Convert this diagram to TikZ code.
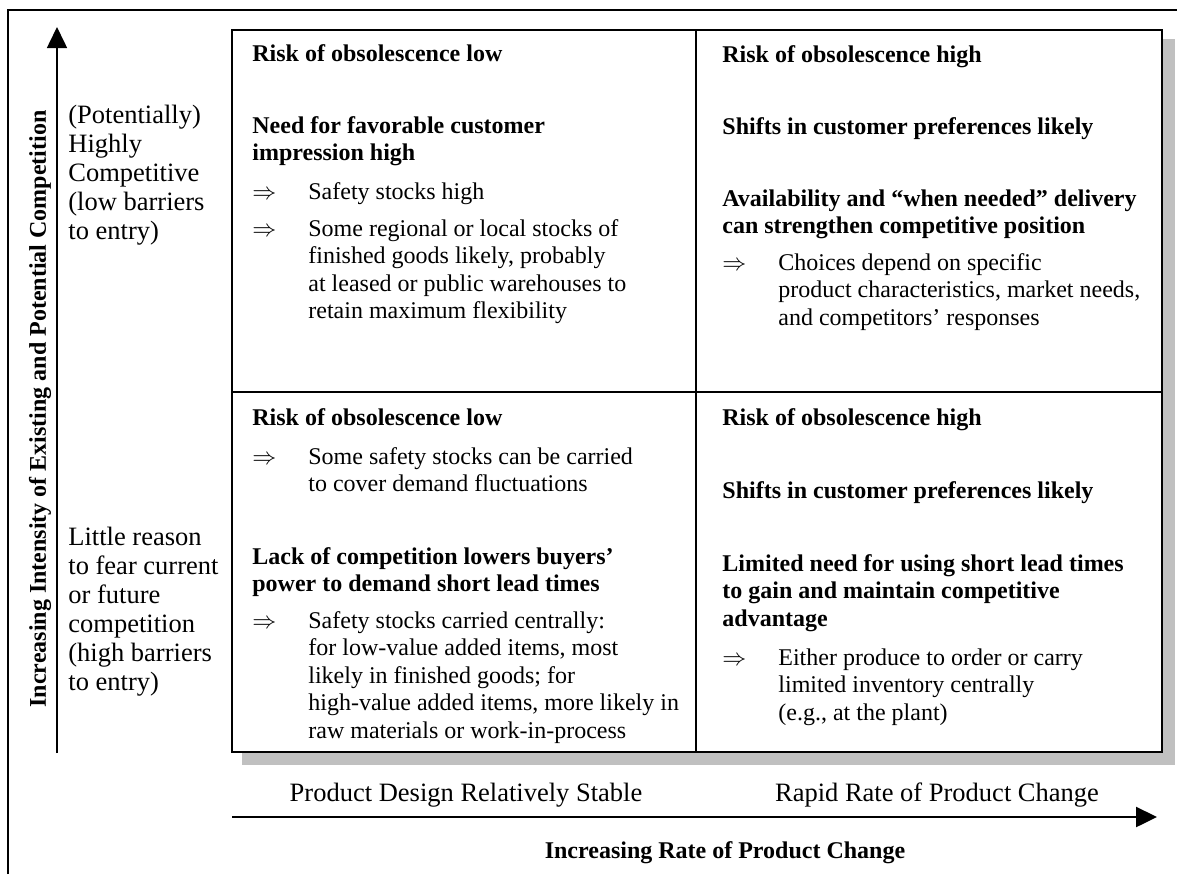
\documentclass[tikz,border=0pt]{standalone}
\usepackage{fontspec}
\setmainfont{Liberation Serif}
\usetikzlibrary{arrows.meta}

\definecolor{shadowgray}{HTML}{C0C0C0}

% multi-line nodes sit on the baseline of their last line
\tikzset{
  body/.style={anchor=base west, inner sep=0pt, align=left, font=\fontsize{12}{13.75}\selectfont},
  head/.style={body, font=\fontsize{12}{13.75}\selectfont\bfseries},
  imp/.style={anchor=base west, inner sep=0pt, font=\fontsize{12}{13.75}\selectfont},
  side/.style={anchor=base west, inner sep=0pt, align=left, font=\fontsize{13.25}{14.5}\selectfont},
  axlab/.style={anchor=base, inner sep=0pt, font=\fontsize{13.25}{14.5}\selectfont},
  axis/.style={line width=1.2pt, -{Triangle[width=10pt,length=10.5pt]}}
}

\begin{document}
\begin{tikzpicture}[x=0.5pt,y=-0.5pt]
  \useasboundingbox (0,0) rectangle (1177,874);

  % frame, shadow and the four quadrants
  \draw[line width=1pt] (7.5,874) -- (7.5,10) -- (1177,10);
  \fill[shadowgray] (242,39) rectangle (1175,765);
  \draw[line width=1pt, fill=white] (232,30) rectangle (1162,752);
  \draw[line width=1pt] (696,30) -- (696,752) (232,392) -- (1162,392);

  % axes
  \coordinate (y0) at (57,753);
  \coordinate (y1) at (57,27);
  \coordinate (x0) at (232,817);
  \coordinate (x1) at (1157,817);
  \draw[axis, line width=0.8pt] (y0) -- (y1);
  \draw[axis] (x0) -- (x1);

  % upper left
  \node[head] (ul1) at (252,61)    {Risk of obsolescence low};
  \node[head] (ul2) at (252,160.5) {Need for favorable customer\\impression high};
  \node[imp]  (ul3) at (252,199)   {$\Rightarrow$};
  \node[body] (ul4) at (308,199)   {Safety stocks high};
  \node[imp]  (ul5) at (252,236)   {$\Rightarrow$};
  \node[body] (ul6) at (308,318.5) {Some regional or local stocks of\\finished goods likely, probably\\at leased or public warehouses to\\retain maximum flexibility};

  % upper right
  \node[head] (ur1) at (722,62)    {Risk of obsolescence high};
  \node[head] (ur2) at (722,134)   {Shifts in customer preferences likely};
  \node[head] (ur3) at (722,233.5) {Availability and “when needed” delivery\\can strengthen competitive position};
  \node[imp]  (ur4) at (722,270)   {$\Rightarrow$};
  \node[body] (ur5) at (778,325)   {Choices depend on specific\\product characteristics, market needs,\\and competitors’ responses};

  % lower left
  \node[head] (ll1) at (252,425)   {Risk of obsolescence low};
  \node[imp]  (ll2) at (252,464)   {$\Rightarrow$};
  \node[body] (ll3) at (308,491.5) {Some safety stocks can be carried\\to cover demand fluctuations};
  \node[head] (ll4) at (252,591.5) {Lack of competition lowers buyers’\\power to demand short lead times};
  \node[imp]  (ll5) at (252,628)   {$\Rightarrow$};
  \node[body] (ll6) at (308,738)   {Safety stocks carried centrally:\\for low-value added items, most\\likely in finished goods; for\\high-value added items, more likely in\\raw materials or work-in-process};

  % lower right
  \node[head] (lr1) at (722,425)   {Risk of obsolescence high};
  \node[head] (lr2) at (722,498)   {Shifts in customer preferences likely};
  \node[head] (lr3) at (722,626)   {Limited need for using short lead times\\to gain and maintain competitive\\advantage};
  \node[imp]  (lr4) at (722,665)   {$\Rightarrow$};
  \node[body] (lr5) at (778,720)   {Either produce to order or carry\\limited inventory centrally\\(e.g., at the plant)};

  % axis labels
  \node[side] (hi) at (68,239) {(Potentially)\\Highly\\Competitive\\(low barriers\\to entry)};
  \node[side] (lo) at (68,690) {Little reason\\to fear current\\or future\\competition\\(high barriers\\to entry)};
  \node[axlab, font=\fontsize{12}{13.75}\selectfont\bfseries, rotate=90] (ylab) at (46,409) {Increasing Intensity of Existing and Potential Competition};
  \node[axlab] (xl1) at (466,801) {Product Design Relatively Stable};
  \node[axlab] (xl2) at (937,801) {Rapid Rate of Product Change};
  \node[axlab, font=\fontsize{12}{13.75}\selectfont\bfseries] (xlab) at (725,858) {Increasing Rate of Product Change};
\end{tikzpicture}
\end{document}
